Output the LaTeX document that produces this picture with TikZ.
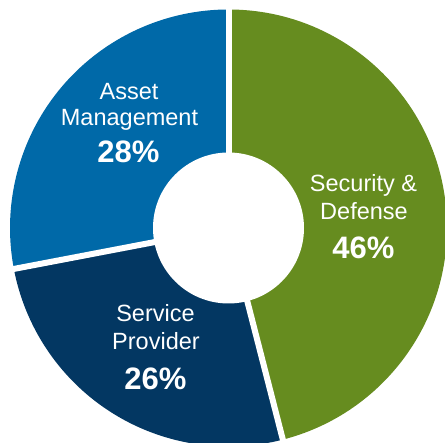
\documentclass[tikz,border=0pt]{standalone}
\usepackage{fontspec}
\setmainfont{Liberation Sans}
\definecolor{secgreen}{RGB}{102,140,31}
\definecolor{assetblue}{RGB}{0,105,168}
\definecolor{servnavy}{RGB}{3,55,98}

\begin{document}
\begin{tikzpicture}[x=1pt,y=1pt,
	lbl/.style={text=white,anchor=base,inner sep=0pt,font=\fontsize{23.5}{28}\selectfont},
	pct/.style={text=white,anchor=base,inner sep=0pt,font=\fontsize{31}{36}\selectfont\bfseries},
	gap/.style={draw=white,line width=6pt}]
	\useasboundingbox (0,0) rectangle (445,443);
	\coordinate (c) at (228.5,215);
	\fill[secgreen] (c) -- ++(90:218.5) arc[start angle=90,end angle=-75.6,radius=218.5] -- cycle;
	\fill[servnavy] (c) -- ++(-75.6:218.5) arc[start angle=-75.6,end angle=-169.2,radius=218.5] -- cycle;
	\fill[assetblue] (c) -- ++(-169.2:218.5) arc[start angle=-169.2,end angle=-270,radius=218.5] -- cycle;
	\foreach \a in {90,-75.6,-169.2}
		\draw[gap] (c) -- ++(\a:225);
	\fill[white] (c) circle[radius=75.5];
	\node[lbl] (am1) at (129,343.5) {Asset};
	\node[lbl] (am2) at (129.5,317) {Management};
	\node[pct] (am3) at (128.5,280) {28\%};
	\node[lbl] (sd1) at (363.5,251) {Security \&};
	\node[lbl] (sd2) at (364,223) {Defense};
	\node[pct] (sd3) at (363.5,184) {46\%};
	\node[lbl] (sp1) at (155.5,121) {Service};
	\node[lbl] (sp2) at (156,93) {Provider};
	\node[pct] (sp3) at (155.5,53) {26\%};
\end{tikzpicture}
\end{document}
